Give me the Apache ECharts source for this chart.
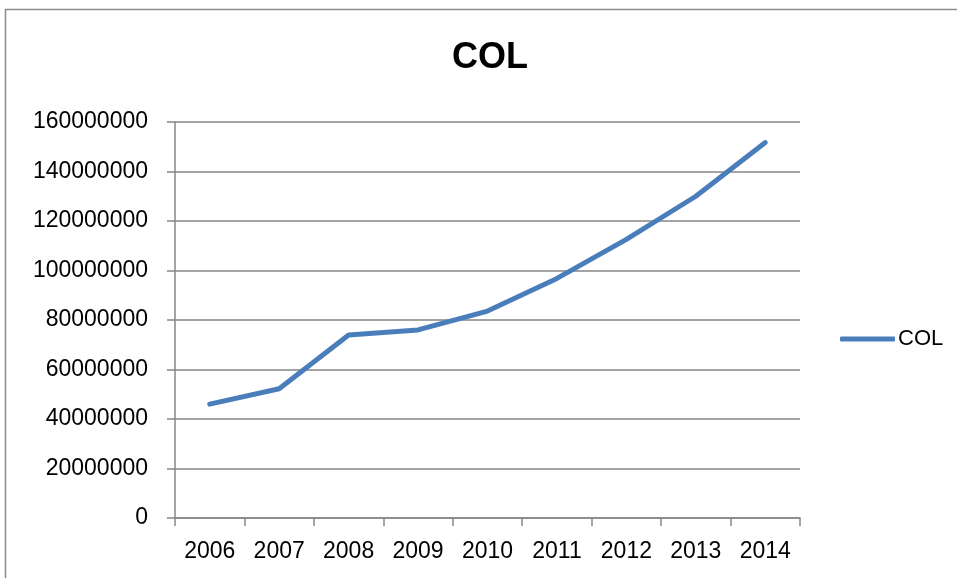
<!DOCTYPE html>
<html>
<head>
<meta charset="utf-8">
<script src="https://cdn.jsdelivr.net/npm/echarts@6/dist/echarts.min.js"></script>
<style>
  html, body { margin: 0; padding: 0; background: #fff; }
  #chart { width: 957px; height: 578px; }
</style>
</head>
<body>
<div id="chart"></div>
<script>
  // values
  var years = ['2006', '2007', '2008', '2009', '2010', '2011', '2012', '2013', '2014'];
  var colValues = [46000000, 52200000, 73900000, 76000000, 83600000, 96800000, 112600000, 130000000, 151700000];
  var yTicks = [0, 20000000, 40000000, 60000000, 80000000, 100000000, 120000000, 140000000, 160000000];

  var gray = '#868686';
  var font = '"Liberation Sans", Arial, sans-serif';

  var chart = echarts.init(document.getElementById('chart'));
  chart.setOption({
    animation: false,
    title: {
      text: 'COL',
      left: 452,
      top: 40,
      padding: 0,
      textStyle: { fontFamily: font, fontWeight: 'bold', fontSize: 36, color: '#000' }
    },
    legend: {
      data: [{ name: 'COL', icon: 'roundRect' }],
      left: 840,
      top: 328,
      itemWidth: 55,
      itemHeight: 5,
      itemGap: 4,
      padding: 0,
      itemStyle: { color: '#4a7ebb', borderWidth: 0 },
      textStyle: { fontFamily: font, fontSize: 22, color: '#000', padding: [0, 0, 0, -2] }
    },
    grid: {
      left: 175,
      top: 122,
      width: 625,
      height: 396
    },
    xAxis: {
      type: 'category',
      data: years,
      boundaryGap: true,
      axisLine: { lineStyle: { color: gray, width: 1.5 } },
      axisTick: { show: true, length: 8, lineStyle: { color: gray, width: 1.5 } },
      axisLabel: { margin: 22, fontFamily: font, fontSize: 23, color: '#000' },
      splitLine: { show: false }
    },
    yAxis: {
      type: 'value',
      min: yTicks[0],
      max: yTicks[yTicks.length - 1],
      interval: yTicks[1] - yTicks[0],
      axisLine: { show: true, lineStyle: { color: gray, width: 1.5 } },
      axisTick: { show: true, length: 8, lineStyle: { color: gray, width: 1.5 } },
      axisLabel: {
        margin: 27, fontFamily: font, fontSize: 23, color: '#000',
        formatter: function (v) { return String(v); }
      },
      splitLine: { show: true, lineStyle: { color: gray, width: 1.5 } }
    },
    series: [{
      name: 'COL',
      type: 'line',
      data: colValues,
      symbol: 'none',
      color: '#4a7ebb',
      lineStyle: { color: '#4a7ebb', width: 5, cap: 'round', join: 'round' }
    }],
    graphic: [{
      type: 'rect',
      silent: true,
      shape: { x: 5.5, y: 9.5, width: 1000, height: 1000 },
      style: { fill: 'none', stroke: '#8c8c8c', lineWidth: 1.5 }
    }]
  });
</script>
</body>
</html>
